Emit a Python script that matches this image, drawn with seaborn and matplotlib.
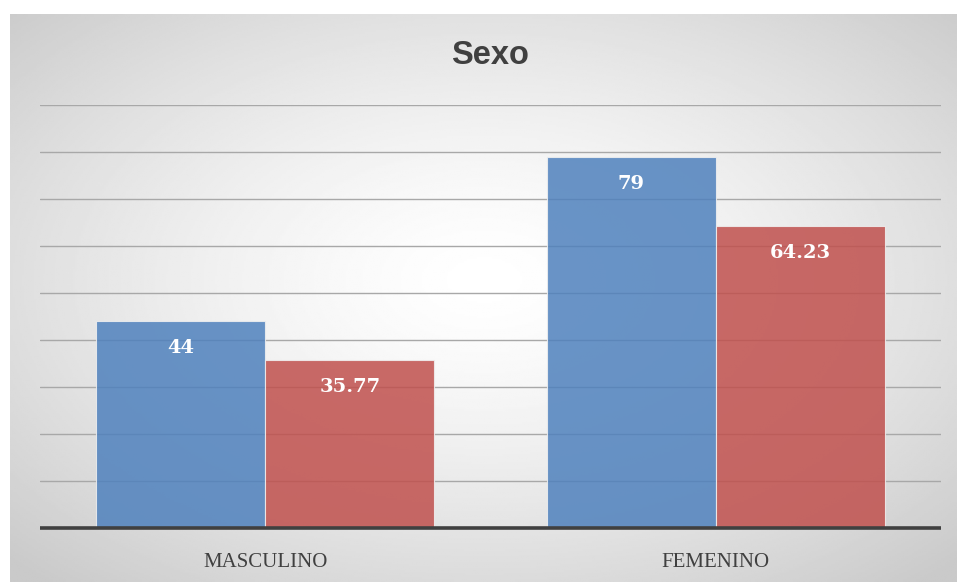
import numpy as np
import pandas as pd
import matplotlib
matplotlib.use('Agg')
import matplotlib.pyplot as plt
import seaborn as sns

# datos del grafico
sexo = ["MASCULINO", "FEMENINO"]
series = ["Frecuencia", "Porcentaje"]
frecuencia = [44, 79]
porcentaje = [35.77, 64.23]
colores = ["#4F81BD", "#C0504D"]

df = pd.DataFrame({
    "sexo": sexo * 2,
    "serie": [series[0]] * 2 + [series[1]] * 2,
    "valor": frecuencia + porcentaje,
})

sns.set_theme(style="white")
W, H = 957, 582
fig = plt.figure(figsize=(W / 100, H / 100), dpi=100)
fig.patch.set_facecolor("white")

# fondo con degradado radial (estilo Excel)
bg = fig.add_axes([10 / W, 0, (W - 10) / W, (H - 14) / H])
yy, xx = np.mgrid[0:300, 0:500]
cx, cy = 250, 140
r = np.sqrt(((xx - cx) / 250) ** 2 + ((yy - cy) / 150) ** 2) / np.sqrt(2)
val = 1.0 - 0.21 * np.clip(r, 0, 1) ** 1.4
bg.imshow(val, cmap="gray", vmin=0, vmax=1, aspect="auto", extent=[0, 1, 0, 1])
bg.set_axis_off()

ax = fig.add_axes([40 / W, (H - 528) / H, (941 - 40) / W, (528 - 105) / H])
ax.patch.set_alpha(0)
sns.barplot(data=df, x="sexo", y="valor", hue="serie", palette=colores,
            saturation=1, width=0.75, alpha=0.85, edgecolor="#F0F0F0",
            linewidth=0.8, legend=False, ax=ax, zorder=3)

ax.set_ylim(0, 90)
ax.set_yticks(np.arange(10, 91, 10))
ax.yaxis.grid(True, color="#A8A8A8", linewidth=1.0, zorder=1)
ax.set_axisbelow(True)
ax.tick_params(axis="y", left=False, labelleft=False)
ax.tick_params(axis="x", bottom=False, pad=12)
for s in ax.spines.values():
    s.set_visible(False)
ax.axhline(0, color="#404040", linewidth=2.6, zorder=5, clip_on=False,
           solid_capstyle="butt")
ax.set_xlabel("")
ax.set_ylabel("")
for lbl in ax.get_xticklabels():
    lbl.set_fontfamily("Liberation Serif")
    lbl.set_fontsize(15)
    lbl.set_color("#404040")

for cont in ax.containers:
    ax.bar_label(cont, fmt="{:g}", padding=-26, color="white",
                 fontsize=14, fontweight="bold", family="DejaVu Serif", zorder=6)

fig.text(490 / W, 1 - 55 / H, "Sexo", ha="center", va="center",
         fontsize=23.5, fontweight="bold", color="#404040", family="Liberation Sans")

fig.savefig("out.png", dpi=100)
